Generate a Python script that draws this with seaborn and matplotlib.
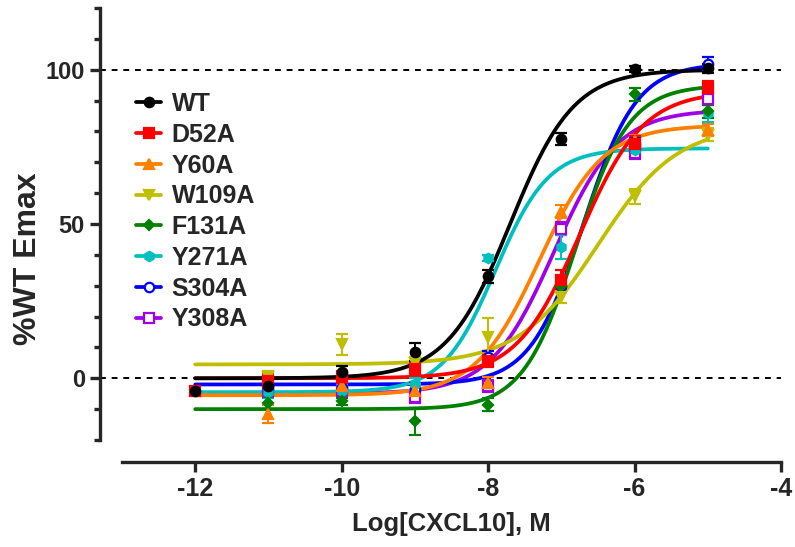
import numpy as np
import pandas as pd
import matplotlib
matplotlib.use("Agg")
import matplotlib.pyplot as plt
from matplotlib.lines import Line2D
from matplotlib.ticker import MultipleLocator
import seaborn as sns

# ---------------- data ----------------
names = ["WT", "D52A", "Y60A", "W109A", "F131A", "Y271A", "S304A", "Y308A"]
colors = ["#000000", "#FF0000", "#FF8000", "#BFBF00", "#008000", "#00BFBF", "#0000FF", "#A000E8"]
markers = ["o", "s", "^", "v", "D", "h", "o", "s"]
filled = [True, True, True, True, True, True, False, False]

log_conc = [-12, -11, -10, -9, -8, -7, -6, -5]
nan = np.nan
wt_vals    = [-4.2, -2.6, 2.0, 8.5, 33.0, 77.5, 100.3, 100.5]
d52a_vals  = [-4.0, -1.0, 0.5, 3.0, 5.5, 32.0, 76.0, 94.0]
y60a_vals  = [nan, -11.5, -2.5, -4.0, -1.6, 54.0, 77.0, 80.5]
w109a_vals = [nan, 0.5, 11.0, 5.0, 13.5, 26.5, 59.0, 79.0]
f131a_vals = [nan, -8.0, -7.5, -14.0, -8.5, 30.0, 92.0, 86.5]
y271a_vals = [nan, -4.5, -4.0, -2.0, 39.0, 42.5, 74.0, 86.0]
s304a_vals = [nan, -3.5, -3.0, -3.5, 7.0, 30.0, 76.0, 102.0]
y308a_vals = [nan, -4.0, -4.0, -6.0, -2.5, 48.5, 73.0, 90.5]

wt_err    = [1.0, 2.0, 2.0, 3.0, 2.0, 2.0, 1.0, 1.5]
d52a_err  = [1.0, 2.5, 2.0, 2.0, 2.0, 3.0, 2.5, 2.5]
y60a_err  = [nan, 3.0, 2.0, 2.0, 2.0, 2.0, 2.0, 2.0]
w109a_err = [nan, 2.0, 3.5, 2.0, 6.0, 2.0, 2.5, 2.0]
f131a_err = [nan, 2.0, 1.0, 4.5, 2.0, 2.0, 2.0, 2.0]
y271a_err = [nan, 2.0, 2.0, 2.0, 1.0, 4.0, 2.0, 3.0]
s304a_err = [nan, 2.0, 2.0, 2.0, 2.0, 2.0, 2.0, 2.0]
y308a_err = [nan, 2.0, 2.0, 2.0, 2.0, 2.0, 2.0, 2.0]

values = [wt_vals, d52a_vals, y60a_vals, w109a_vals, f131a_vals, y271a_vals, s304a_vals, y308a_vals]
errors = [wt_err, d52a_err, y60a_err, w109a_err, f131a_err, y271a_err, s304a_err, y308a_err]

# four-parameter logistic fit parameters
fit_bottom = [0.0, 0.0, -5.5, 4.5, -10.0, -4.5, -2.0, -5.0]
fit_top    = [100.0, 93.0, 82.0, 82.0, 95.0, 74.5, 102.0, 87.0]
fit_logec50 = [-7.7, -6.75, -7.3, -6.5, -6.8, -7.9, -6.7, -7.1]
fit_hill   = [1.0, 1.0, 1.0, 0.8, 1.2, 1.2, 1.2, 1.0]

# ---------------- style ----------------
sns.set_theme(style="ticks")
plt.rcParams['font.family'] = ['Liberation Sans', 'DejaVu Sans']
plt.rcParams['font.weight'] = 'bold'
plt.rcParams['axes.labelweight'] = 'bold'
plt.rcParams['axes.unicode_minus'] = False

W, H, DPI = 795, 547, 100
fig = plt.figure(figsize=(W / DPI, H / DPI), dpi=DPI)
x0, x1, ytop, ybot = 122, 781, 8, 440
ax = fig.add_axes([x0 / W, 1 - ybot / H, (x1 - x0) / W, (ybot - ytop) / H])

# curves via seaborn
xs = np.linspace(-12, -5, 300)
rows = []
for i, n in enumerate(names):
    ys = fit_bottom[i] + (fit_top[i] - fit_bottom[i]) / (1 + 10 ** ((fit_logec50[i] - xs) * fit_hill[i]))
    for xv, yv in zip(xs, ys):
        rows.append((n, xv, yv))
curves = pd.DataFrame(rows, columns=["series", "logc", "resp"])
sns.lineplot(data=curves, x="logc", y="resp", hue="series", hue_order=names,
             palette=dict(zip(names, colors)), linewidth=2.7, legend=False, ax=ax,
             sort=False, estimator=None)
for k, line in enumerate(ax.lines):
    line.set_zorder(3 + (len(names) - k) * 0.01)

# points with error bars
for i, n in enumerate(names):
    xv = np.array(log_conc, dtype=float)
    yv = np.array(values[i], dtype=float)
    ev = np.array(errors[i], dtype=float)
    m = ~np.isnan(yv)
    ms = 6.8 if markers[i] != "D" else 5.2
    ax.errorbar(xv[m], yv[m], yerr=ev[m], fmt=markers[i], color=colors[i],
                mfc=colors[i] if filled[i] else "white", mec=colors[i], mew=1.6,
                ms=ms, ecolor=colors[i], elinewidth=1.4, capsize=4, capthick=1.4,
                zorder=5 + (len(names) - i) * 0.01)

# dashed reference lines
for yref in (0, 100):
    ax.axhline(yref, xmin=-22 / (x1 - x0), xmax=1, color="black", ls=(0, (3, 3)), lw=1.4,
               clip_on=False, zorder=2)

ax.set_xlim(-13, -4)
ax.set_ylim(-20, 120)
ax.set_xticks([-12, -10, -8, -6, -4])
ax.set_yticks([0, 50, 100])
ax.yaxis.set_minor_locator(MultipleLocator(10))

for side in ("top", "right"):
    ax.spines[side].set_visible(False)
ax.spines["left"].set_position(("outward", 15.8))
ax.spines["bottom"].set_position(("outward", 15.8))
for side in ("left", "bottom"):
    ax.spines[side].set_linewidth(2.4)
ax.tick_params(axis="both", which="major", length=7, width=2.4, direction="out", pad=4)
ax.tick_params(axis="y", which="minor", length=4.5, width=2.4, direction="out")
ax.tick_params(axis="y", labelsize=17)
ax.tick_params(axis="x", labelsize=18)
for lab in ax.get_xticklabels() + ax.get_yticklabels():
    lab.set_fontweight("bold")

ax.set_xlabel("Log[CXCL10], M", fontsize=18.5, fontweight="bold", labelpad=8)
ax.set_ylabel("%WT Emax", fontsize=23, fontweight="bold")
ax.yaxis.set_label_coords((43 - x0) / (x1 - x0), (ybot - 259) / (ybot - ytop))

handles = []
for i, n in enumerate(names):
    ms = 6.8 if markers[i] != "D" else 5.2
    handles.append(Line2D([0], [0], color=colors[i], lw=2.7, marker=markers[i], ms=ms,
                          mfc=colors[i] if filled[i] else "white", mec=colors[i], mew=1.6))
leg = ax.legend(handles, names, loc="upper left", bbox_to_anchor=(0.022, 0.805),
                frameon=False, fontsize=18, handlelength=1.0, handletextpad=0.4,
                labelspacing=0.27, borderpad=0, borderaxespad=0)
for t in leg.get_texts():
    t.set_fontweight("bold")

fig.savefig("out.png", dpi=DPI)
